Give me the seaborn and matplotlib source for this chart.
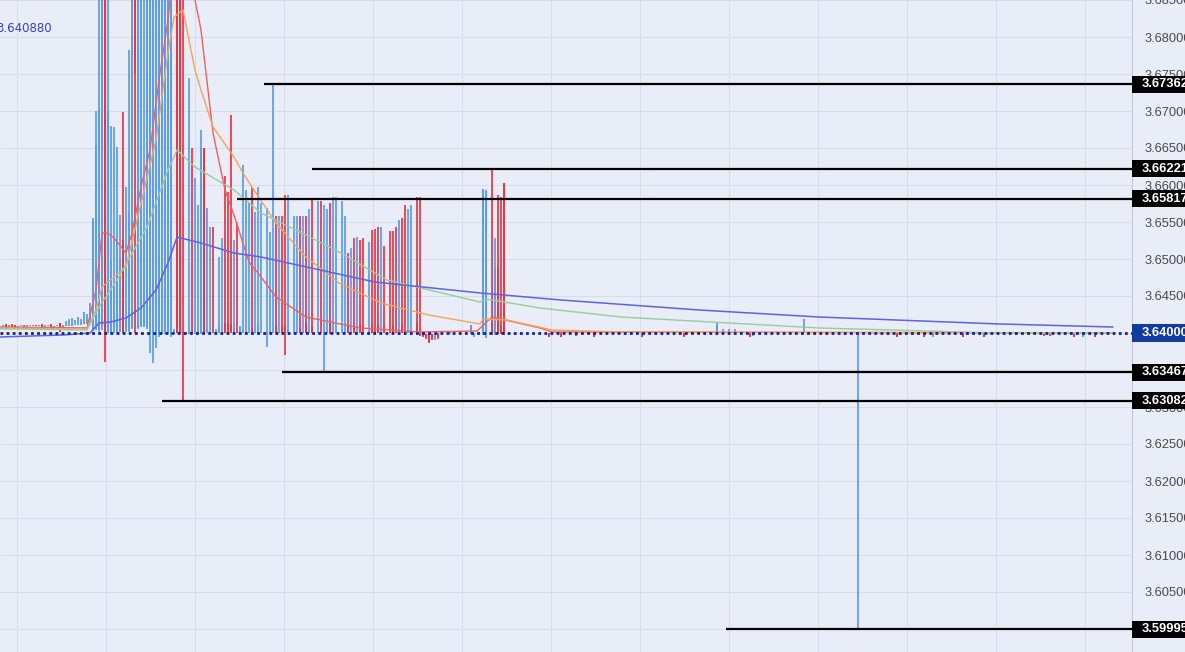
import matplotlib
matplotlib.use("Agg")
import matplotlib.pyplot as plt
import seaborn as sns
import numpy as np
from matplotlib.patches import Rectangle

# candle data: time index (1 unit = one bar), open / high / low / close
candle_t = [
    1, 2, 3, 4, 5, 6, 7, 8, 9, 10, 11, 12, 13, 14, 15, 16, 17, 18, 19, 20,
    21, 22, 23, 24, 25, 26, 27, 28, 29, 30,
    31, 32, 33, 34, 35, 36, 37, 38, 39, 40, 41, 42, 43, 44, 45, 46, 47, 48, 49, 50,
    51, 52, 53, 54, 55, 56, 57, 58, 59, 60, 61,
    62, 63, 64, 65, 66, 67, 68, 69, 70, 71, 72, 73, 74, 75, 76, 77, 78, 79, 80,
    81, 82, 83, 84, 85, 86, 87, 89, 90, 91, 92, 93, 94, 95, 96, 98, 99, 100,
    101, 102, 103, 104, 106, 107, 108, 109, 110, 111, 112, 114, 115, 116, 117, 118,
    119, 120, 121, 123, 124, 125, 126, 127, 128, 130, 131, 132, 133, 134, 135, 136,
    137, 139, 140, 141, 142, 143, 144, 145, 146,
    150, 157, 158, 161, 162, 164, 165, 166, 167, 168,
    183, 187, 192, 198, 206, 214, 228, 239, 241, 243, 245, 250, 251, 268, 286,
    299, 308, 311, 321, 328, 348, 350, 358, 361, 365, 370,
]
candle_open = [
    3.64090, 3.64112, 3.64085, 3.64110, 3.64110, 3.64070, 3.64095, 3.64100, 3.64085, 3.64095,
    3.64100, 3.64105, 3.64095, 3.64110, 3.64085, 3.64100, 3.64112, 3.64065, 3.64095, 3.64135,
    3.64040, 3.64095, 3.64100, 3.64105, 3.64110, 3.64115, 3.64118, 3.64120, 3.64140, 3.64160,
    3.64050, 3.64060, 3.64040, 3.64100, 3.69500, 3.64020, 3.64000, 3.64050, 3.64010, 3.64030,
    3.65260, 3.64040, 3.64040, 3.64070, 3.69500, 3.64070, 3.64100, 3.64100, 3.64080, 3.64000,
    3.64020, 3.64030, 3.64000, 3.64000, 3.64000, 3.64010, 3.64000, 3.64000, 3.69500, 3.69500,
    3.64020,
    3.64000, 3.64000, 3.64030, 3.64000, 3.64000, 3.64000, 3.66500, 3.64000, 3.64000, 3.64010,
    3.64000, 3.64000, 3.64000, 3.64140, 3.64140, 3.64120, 3.64000, 3.64010, 3.64000,
    3.64000, 3.64000, 3.64000, 3.64060, 3.64000, 3.64000, 3.64000, 3.64000, 3.64000, 3.64000,
    3.64100, 3.64000, 3.64100, 3.64100, 3.64000, 3.64000, 3.64000, 3.64080,
    3.64000, 3.64130, 3.64000, 3.64100, 3.64000, 3.64010, 3.64000, 3.64000, 3.64130, 3.64000,
    3.64000, 3.64000, 3.64000, 3.64110, 3.64000, 3.64100,
    3.64000, 3.64110, 3.64010, 3.64000, 3.64110, 3.64010, 3.64110, 3.64000, 3.64100, 3.64010,
    3.64100, 3.64010, 3.64000, 3.64110, 3.64010, 3.64000,
    3.64000, 3.64130, 3.64000, 3.64000, 3.63980, 3.63990, 3.63985, 3.63930, 3.63990,
    3.64000, 3.64000, 3.63955, 3.64000, 3.64020, 3.64130, 3.63980, 3.64892, 3.64100, 3.66027,
    3.64000, 3.64005, 3.64000, 3.64000, 3.63990, 3.64000, 3.64000, 3.64000, 3.64000, 3.64000,
    3.64000, 3.64000, 3.63970, 3.64000, 3.64000,
    3.64000, 3.64000, 3.63960, 3.64000, 3.64000, 3.64000, 3.64000, 3.64000, 3.63960, 3.64000,
    3.64000,
]
candle_high = [
    3.64110, 3.64118, 3.64105, 3.64115, 3.64112, 3.64100, 3.64110, 3.64105, 3.64110, 3.64105,
    3.64110, 3.64110, 3.64110, 3.64120, 3.64105, 3.64110, 3.64120, 3.64100, 3.64110, 3.64140,
    3.64110, 3.64165, 3.64190, 3.64200, 3.64180, 3.64210, 3.64190, 3.64284, 3.64260, 3.64400,
    3.65560, 3.67000, 3.69500, 3.69500, 3.69500, 3.69500, 3.66800, 3.66780, 3.66510, 3.65600,
    3.66990, 3.65970, 3.67820, 3.69500, 3.69500, 3.69500, 3.69500, 3.69500, 3.69500, 3.69500,
    3.69500, 3.69500, 3.69500, 3.69500, 3.69500, 3.69500, 3.69500, 3.64050, 3.69500, 3.69500,
    3.69500,
    3.64020, 3.67446, 3.66500, 3.66095, 3.65730, 3.66743, 3.66500, 3.65689, 3.65432, 3.65432,
    3.64060, 3.65027, 3.65284, 3.66122, 3.65905, 3.66946, 3.65257, 3.65486, 3.64100,
    3.66270, 3.65932, 3.65757, 3.65973, 3.65635, 3.65973, 3.65757, 3.65689, 3.65365, 3.67362,
    3.65581, 3.65581, 3.65581, 3.65865, 3.65865, 3.65581, 3.65581, 3.65581,
    3.65581, 3.65581, 3.65676, 3.65811, 3.65784, 3.65784, 3.65730, 3.65676, 3.65757, 3.65838,
    3.65838, 3.65784, 3.65581, 3.65081, 3.65149, 3.65284,
    3.65297, 3.65257, 3.65284, 3.65230, 3.65392, 3.65405, 3.65432, 3.65432, 3.65176, 3.65378,
    3.65378, 3.65432, 3.65527, 3.65554, 3.65730, 3.65676,
    3.65730, 3.65838, 3.65838, 3.64010, 3.63990, 3.63995, 3.63990, 3.63990, 3.63995,
    3.64010, 3.64110, 3.63995, 3.65946, 3.65930, 3.66221, 3.65284, 3.65865, 3.65838, 3.66027,
    3.64005, 3.64010, 3.64005, 3.64005, 3.64010, 3.64005, 3.64005, 3.64130, 3.64050, 3.64050,
    3.64050, 3.64005, 3.64000, 3.64190, 3.64010,
    3.64005, 3.64005, 3.64000, 3.64005, 3.64005, 3.64010, 3.64010, 3.64005, 3.64000, 3.64005,
    3.64010,
]
candle_low = [
    3.64075, 3.64060, 3.64080, 3.64085, 3.64055, 3.64060, 3.64090, 3.64080, 3.64080, 3.64090,
    3.64095, 3.64095, 3.64090, 3.64080, 3.64080, 3.64095, 3.64060, 3.64060, 3.64090, 3.64015,
    3.64035, 3.64090, 3.64095, 3.64100, 3.64105, 3.64110, 3.64110, 3.64115, 3.64120, 3.64150,
    3.64030, 3.64040, 3.64020, 3.64040, 3.63610, 3.64000, 3.63980, 3.64000, 3.64000, 3.64010,
    3.64000, 3.64020, 3.64020, 3.64050, 3.64000, 3.64050, 3.64080, 3.64080, 3.64060, 3.63730,
    3.63590, 3.63800, 3.63950, 3.63980, 3.63990, 3.63990, 3.63950, 3.63990, 3.64000, 3.63990,
    3.63082,
    3.63990, 3.63990, 3.63990, 3.63990, 3.63990, 3.63990, 3.63990, 3.63995, 3.63995, 3.63995,
    3.63995, 3.63995, 3.63995, 3.63995, 3.63995, 3.63995, 3.63995, 3.63995, 3.63990,
    3.63995, 3.63995, 3.63995, 3.63995, 3.63995, 3.63995, 3.63995, 3.63811, 3.63995, 3.63995,
    3.63995, 3.63995, 3.63995, 3.63703, 3.63995, 3.63995, 3.63995, 3.63995,
    3.63995, 3.63995, 3.63995, 3.63995, 3.63995, 3.63995, 3.63467, 3.63995, 3.63985, 3.63995,
    3.63995, 3.63995, 3.63995, 3.63995, 3.63995, 3.63995,
    3.63995, 3.63995, 3.63995, 3.63995, 3.63995, 3.63995, 3.63995, 3.63995, 3.63995, 3.63995,
    3.63995, 3.63995, 3.63995, 3.63995, 3.63995, 3.63995,
    3.63995, 3.63995, 3.63960, 3.63950, 3.63920, 3.63870, 3.63900, 3.63910, 3.63920,
    3.63990, 3.63990, 3.63940, 3.63970, 3.63932, 3.63970, 3.63970, 3.63990, 3.63990, 3.63970,
    3.63940, 3.63940, 3.63960, 3.63940, 3.63985, 3.63940, 3.63950, 3.63995, 3.63995, 3.63995,
    3.63995, 3.63940, 3.63960, 3.63995, 3.59995,
    3.63940, 3.63940, 3.63950, 3.63945, 3.63945, 3.63960, 3.63960, 3.63945, 3.63950, 3.63945,
    3.63990,
]
candle_close = [
    3.64105, 3.64070, 3.64100, 3.64090, 3.64065, 3.64095, 3.64100, 3.64085, 3.64100, 3.64100,
    3.64105, 3.64100, 3.64105, 3.64085, 3.64100, 3.64105, 3.64065, 3.64095, 3.64100, 3.64020,
    3.64100, 3.64105, 3.64110, 3.64115, 3.64115, 3.64120, 3.64125, 3.64150, 3.64170, 3.64300,
    3.65530, 3.66540, 3.67010, 3.69500, 3.64000, 3.67010, 3.64990, 3.64620, 3.65260, 3.65000,
    3.64000, 3.64200, 3.65620, 3.69500, 3.67510, 3.69500, 3.69500, 3.65350, 3.69500, 3.69500,
    3.69500, 3.69500, 3.69500, 3.69500, 3.69500, 3.69500, 3.69500, 3.64020, 3.64000, 3.64000,
    3.63990,
    3.64010, 3.64020, 3.64000, 3.64015, 3.64010, 3.66500, 3.64000, 3.64010, 3.64010, 3.64000,
    3.64020, 3.64095, 3.64010, 3.64000, 3.64000, 3.64010, 3.64130, 3.64000, 3.64040,
    3.64010, 3.64010, 3.64010, 3.64000, 3.64010, 3.64100, 3.64010, 3.64010, 3.64010, 3.64010,
    3.64000, 3.64010, 3.64000, 3.64000, 3.64050, 3.64010, 3.64010, 3.64000,
    3.64010, 3.64000, 3.64010, 3.64000, 3.64010, 3.64000, 3.64010, 3.64010, 3.63990, 3.64010,
    3.64010, 3.64010, 3.64010, 3.64000, 3.64010, 3.64010,
    3.64010, 3.64010, 3.64000, 3.64010, 3.64000, 3.64000, 3.64010, 3.64010, 3.64010, 3.64000,
    3.64000, 3.64000, 3.64010, 3.64000, 3.64000, 3.64010,
    3.64010, 3.64000, 3.63970, 3.63960, 3.63940, 3.63880, 3.63920, 3.63960, 3.63940,
    3.64005, 3.64110, 3.63990, 3.65946, 3.65920, 3.63980, 3.64892, 3.64000, 3.64000, 3.63970,
    3.63946, 3.63950, 3.63970, 3.63950, 3.64000, 3.63950, 3.63960, 3.64110, 3.64020, 3.64020,
    3.64020, 3.63950, 3.63990, 3.64010, 3.64005,
    3.63950, 3.63950, 3.63990, 3.63950, 3.63950, 3.63970, 3.63970, 3.63950, 3.63990, 3.63950,
    3.64005,
]

# moving averages
ma_fast_t = [0, 29, 32, 34, 36, 38, 42, 44, 47, 50, 53, 56, 58, 62, 65, 67, 71, 75, 78, 83,
             86, 92, 102, 120, 140, 159, 164, 180, 184, 371]
ma_fast = [3.64081, 3.64068, 3.64581, 3.65351, 3.65351, 3.65284, 3.65081, 3.65351, 3.65973,
           3.66473, 3.67419, 3.68230, 3.69040, 3.69310, 3.68500, 3.68095, 3.66703, 3.65932,
           3.65595, 3.64959, 3.64811, 3.64486, 3.64216, 3.64068, 3.64014, 3.64027, 3.64216,
           3.64068, 3.64014, 3.64000]
ma_mid_t = [0, 29, 32, 34, 42, 52, 56, 58, 61, 65, 67, 71, 78, 81, 84, 92, 102, 113, 127,
            143, 160, 161, 169, 184, 207, 371]
ma_mid = [3.64068, 3.64054, 3.64311, 3.64622, 3.64892, 3.66608, 3.67784, 3.68270, 3.68365,
          3.67554, 3.67284, 3.66784, 3.66378, 3.66162, 3.65973, 3.65486, 3.65027, 3.64676,
          3.64405, 3.64243, 3.64122, 3.64189, 3.64176, 3.64041, 3.64014, 3.64000]
ma_slow_t = [0, 29, 33, 39, 49, 56, 59, 65, 78, 87, 100, 113, 129, 160, 162, 180, 207, 273,
             333, 371]
ma_slow = [3.64055, 3.64041, 3.64351, 3.64716, 3.65432, 3.66203, 3.66473, 3.66243, 3.65932,
           3.65622, 3.65365, 3.65095, 3.64716, 3.64419, 3.64460, 3.64338, 3.64216, 3.64068,
           3.64000, 3.64000]
ma_long_t = [0, 21, 30, 33, 37, 42, 47, 52, 56, 59, 67, 78, 87, 125, 160, 187, 233, 273,
             333, 371]
ma_long = [3.63946, 3.63973, 3.64000, 3.64135, 3.64149, 3.64203, 3.64338, 3.64581, 3.64946,
           3.65297, 3.65216, 3.65081, 3.65027, 3.64689, 3.64541, 3.64446, 3.64311, 3.64216,
           3.64122, 3.64081]

# marked price levels and the bar where each marker line starts
level_price = [3.67362, 3.66221, 3.65817, 3.63467, 3.63082, 3.59995]
level_start = [88, 104, 79, 94, 54, 242]
last_price = 3.64000
legend_value = "3.640880"

# style
bg = "#E9EDF8"
up_color = "#5B9CEF"
down_color = "#EE3342"
label_font = ["Liberation Sans", "DejaVu Sans"]

sns.set_theme(style="white", rc={"axes.facecolor": bg, "figure.facecolor": bg})
plt.rcParams["font.family"] = label_font

fig = plt.figure(figsize=(11.85, 6.52), dpi=100)
ax = fig.add_axes([0, 0, 1132 / 1185, 1])
ax.set_facecolor(bg)

x_max = 1132 / 3
y_top = 3.685
y_bottom = 3.685 - 652 / 7400
ax.set_xlim(0, x_max)
ax.set_ylim(y_bottom, y_top)

# grid
ax.set_xticks([(17 + 89 * k) / 3 for k in range(13)])
ax.set_xticklabels([])
yt = np.round(np.arange(3.600, 3.6851, 0.005), 3)
hidden = {3.600, 3.635, 3.640}
ax.set_yticks(yt)
ax.set_yticklabels(["" if v in hidden else f"{v:.5f}" for v in yt])
ax.yaxis.tick_right()
ax.tick_params(axis="y", length=0, pad=9, labelsize=9.3, labelcolor="#4a4a4a")
ax.tick_params(axis="x", length=0)
ax.grid(True, color="#D6DCEB", linewidth=0.7)
ax.set_axisbelow(True)
for side in ["top", "left", "bottom"]:
    ax.spines[side].set_visible(False)
ax.spines["right"].set_color("#C3C9DB")
ax.spines["right"].set_linewidth(0.8)

# candles
t = np.array(candle_t, dtype=float)
o = np.array(candle_open)
h = np.array(candle_high)
lo = np.array(candle_low)
c = np.array(candle_close)
colors = np.where(c >= o, up_color, down_color)
ax.vlines(t, lo, h, colors=colors, linewidth=1.25, zorder=2)
body = np.maximum(np.abs(c - o), 0.00005)
ax.bar(t, body, bottom=np.minimum(o, c), width=0.9, color=colors, linewidth=0, zorder=3)

# moving averages
sns.lineplot(x=ma_fast_t, y=ma_fast, ax=ax, color="#F0605E", linewidth=1.0, zorder=4)
sns.lineplot(x=ma_mid_t, y=ma_mid, ax=ax, color="#F5A35C", linewidth=1.0, zorder=4)
sns.lineplot(x=ma_slow_t, y=ma_slow, ax=ax, color="#9ACB9A", linewidth=1.0, zorder=4)
sns.lineplot(x=ma_long_t, y=ma_long, ax=ax, color="#6060E0", linewidth=1.1, zorder=4)

# level lines
ax.hlines(level_price, level_start, x_max, color="black", linewidth=1.6, zorder=6)
ax.axhline(last_price, color="#16208A", linewidth=2.0, linestyle=(0, (1, 1.2)), zorder=7)

# price boxes on the right scale
trans = ax.get_yaxis_transform()
box_h = 17 / 7400
for p, fc in [(v, "black") for v in level_price] + [(last_price, "#133A9E")]:
    ax.add_patch(Rectangle((1.0, p - box_h / 2), 0.06, box_h, transform=trans,
                           facecolor=fc, edgecolor="none", clip_on=False, zorder=8))
    ax.text(1.0 + 10 / 1132, p, f"{p:.5f}", transform=trans, color="white",
            fontsize=9.3, fontweight="bold", va="center", ha="left", clip_on=False, zorder=9)

fig.text(-4 / 1185, 1 - 29 / 652, legend_value, color="#3340CC", fontsize=8.5,
         va="center", family=["DejaVu Sans"])

ax.set_xlabel("")
ax.set_ylabel("")
fig.savefig("out.png", dpi=100, facecolor=bg)
